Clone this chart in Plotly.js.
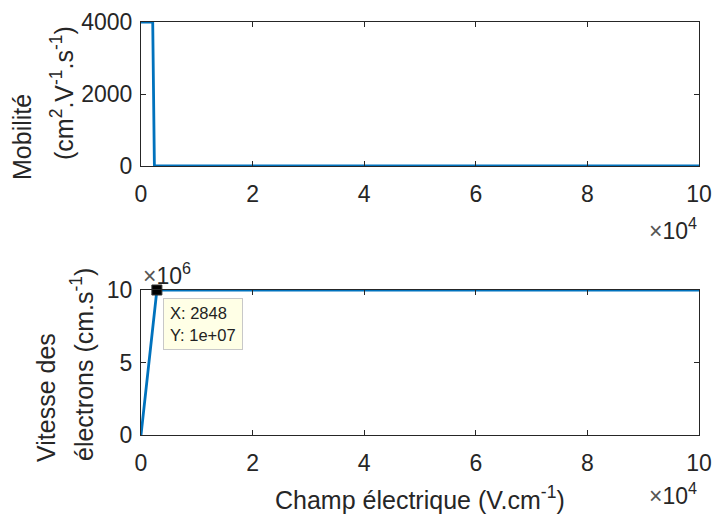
<!DOCTYPE html>
<html>
<head>
<meta charset="utf-8">
<script src="https://cdn.plot.ly/plotly-3.0.1.min.js"></script>
<style>html,body{margin:0;padding:0;background:#fff;}#chart{width:713px;height:514px;}</style>
</head>
<body>
<div id="chart"></div>
<script>
// Data
const fieldMob = [0, 2100, 2400, 100000];
const mobility = [4000, 4000, 0, 0];
const fieldVel = [0, 2848, 100000];
const velocity = [0, 1e7, 1e7];
const tipX = [2848];
const tipY = [1e7];
const xTickVals = [0, 20000, 40000, 60000, 80000, 100000];
const xTickText = ['0', '2', '4', '6', '8', '10'];
const y1TickVals = [0, 2000, 4000];
const y1TickText = ['0', '2000', '4000'];
const y2TickVals = [0, 5e6, 1e7];
const y2TickText = ['0', '5', '10'];

const blue = '#0072BD';
const axc = '#262626';
const fam = 'Liberation Sans, Arial, sans-serif';
const tickFont = {family: fam, size: 23, color: axc};
const titleFont = {family: fam, size: 25, color: axc};

const axisBase = {
  showline: true, linecolor: axc, linewidth: 1, mirror: 'allticks',
  ticks: 'inside', ticklen: 5, tickcolor: axc, tickwidth: 1,
  showgrid: false, zeroline: false, tickfont: tickFont
};

const traces = [
  {x: fieldMob, y: mobility, mode: 'lines', line: {color: blue, width: 2.8}, xaxis: 'x', yaxis: 'y', hoverinfo: 'none'},
  {x: fieldVel, y: velocity, mode: 'lines', line: {color: blue, width: 2.8}, xaxis: 'x2', yaxis: 'y2', hoverinfo: 'none'},
  {x: tipX, y: tipY, mode: 'markers', marker: {symbol: 'square', size: 10, color: '#000', line: {color: '#333', width: 1}}, xaxis: 'x2', yaxis: 'y2', cliponaxis: false, hoverinfo: 'none'}
];

// pixel helpers for paper coords (plot area: x 141..699, y 22..435)
const py = p => (435 - p) / 413;

const layout = {
  width: 713, height: 514,
  margin: {l: 141, r: 14, t: 22, b: 79},
  paper_bgcolor: '#fff', plot_bgcolor: '#fff',
  showlegend: false,
  font: tickFont,
  xaxis: Object.assign({}, axisBase, {domain: [0, 1], range: [0, 100000], tickvals: xTickVals, ticktext: xTickText, anchor: 'y', ticklabelstandoff: 7}),
  yaxis: Object.assign({}, axisBase, {domain: [py(166), 1], range: [0, 4000], tickvals: y1TickVals, ticktext: y1TickText, anchor: 'x', ticklabelstandoff: 3}),
  xaxis2: Object.assign({}, axisBase, {domain: [0, 1], range: [0, 100000], tickvals: xTickVals, ticktext: xTickText, anchor: 'y2', ticklabelstandoff: 7}),
  yaxis2: Object.assign({}, axisBase, {domain: [0, py(290)], range: [0, 1e7], tickvals: y2TickVals, ticktext: y2TickText, anchor: 'x2', ticklabelstandoff: 3}),
  annotations: [
    // y title, top panel
    {xref: 'paper', yref: 'paper', x: 0, xshift: 22 - 141, y: py(137), textangle: -90, showarrow: false,
     xanchor: 'center', yanchor: 'middle', text: 'Mobilité', font: titleFont},
    {xref: 'paper', yref: 'paper', x: 0, xshift: 62 - 141, y: py(93), textangle: -90, showarrow: false,
     xanchor: 'center', yanchor: 'middle', text: '(cm<sup>2</sup>.V<sup>-1</sup>.s<sup>-1</sup>)', font: titleFont},
    // y title, bottom panel
    {xref: 'paper', yref: 'paper', x: 0, xshift: 46 - 141, y: py(398), textangle: -90, showarrow: false,
     xanchor: 'center', yanchor: 'middle', text: 'Vitesse des', font: titleFont},
    {xref: 'paper', yref: 'paper', x: 0, xshift: 82 - 141, y: py(365), textangle: -90, showarrow: false,
     xanchor: 'center', yanchor: 'middle', text: 'électrons (cm.s<sup>-1</sup>)', font: titleFont},
    // x title
    {xref: 'paper', yref: 'paper', x: 0.5, y: 0, yshift: -63, xanchor: 'center', yanchor: 'middle', showarrow: false,
     text: 'Champ électrique (V.cm<sup>-1</sup>)', font: titleFont},
    // exponent labels
    {xref: 'paper', yref: 'paper', x: 1, y: py(166), yshift: -63, xanchor: 'right', yanchor: 'middle', showarrow: false,
     text: '<span style="color:#555">×</span>10<sup>4</sup>', font: tickFont},
    {xref: 'paper', yref: 'paper', x: 1, y: 0, yshift: -59, xanchor: 'right', yanchor: 'middle', showarrow: false,
     text: '<span style="color:#555">×</span>10<sup>4</sup>', font: tickFont},
    {xref: 'paper', yref: 'paper', x: 0, y: py(290), yshift: 16, xanchor: 'left', yanchor: 'middle', showarrow: false,
     text: '<span style="color:#555">×</span>10<sup>6</sup>', font: tickFont},
    // data tip
    {xref: 'x2', yref: 'y2', x: tipX[0], y: tipY[0], xanchor: 'left', yanchor: 'top', xshift: 6, yshift: -8, showarrow: false,
     align: 'left', valign: 'middle', width: 66, height: 38, bgcolor: '#ffffe6', bordercolor: '#c8c8c8', borderwidth: 1, borderpad: 6,
     text: 'X: 2848<br>Y: 1e+07', font: {family: fam, size: 16.5, color: '#222'}}
  ]
};

Plotly.newPlot('chart', traces, layout, {displayModeBar: false, staticPlot: true});
</script>
</body>
</html>
